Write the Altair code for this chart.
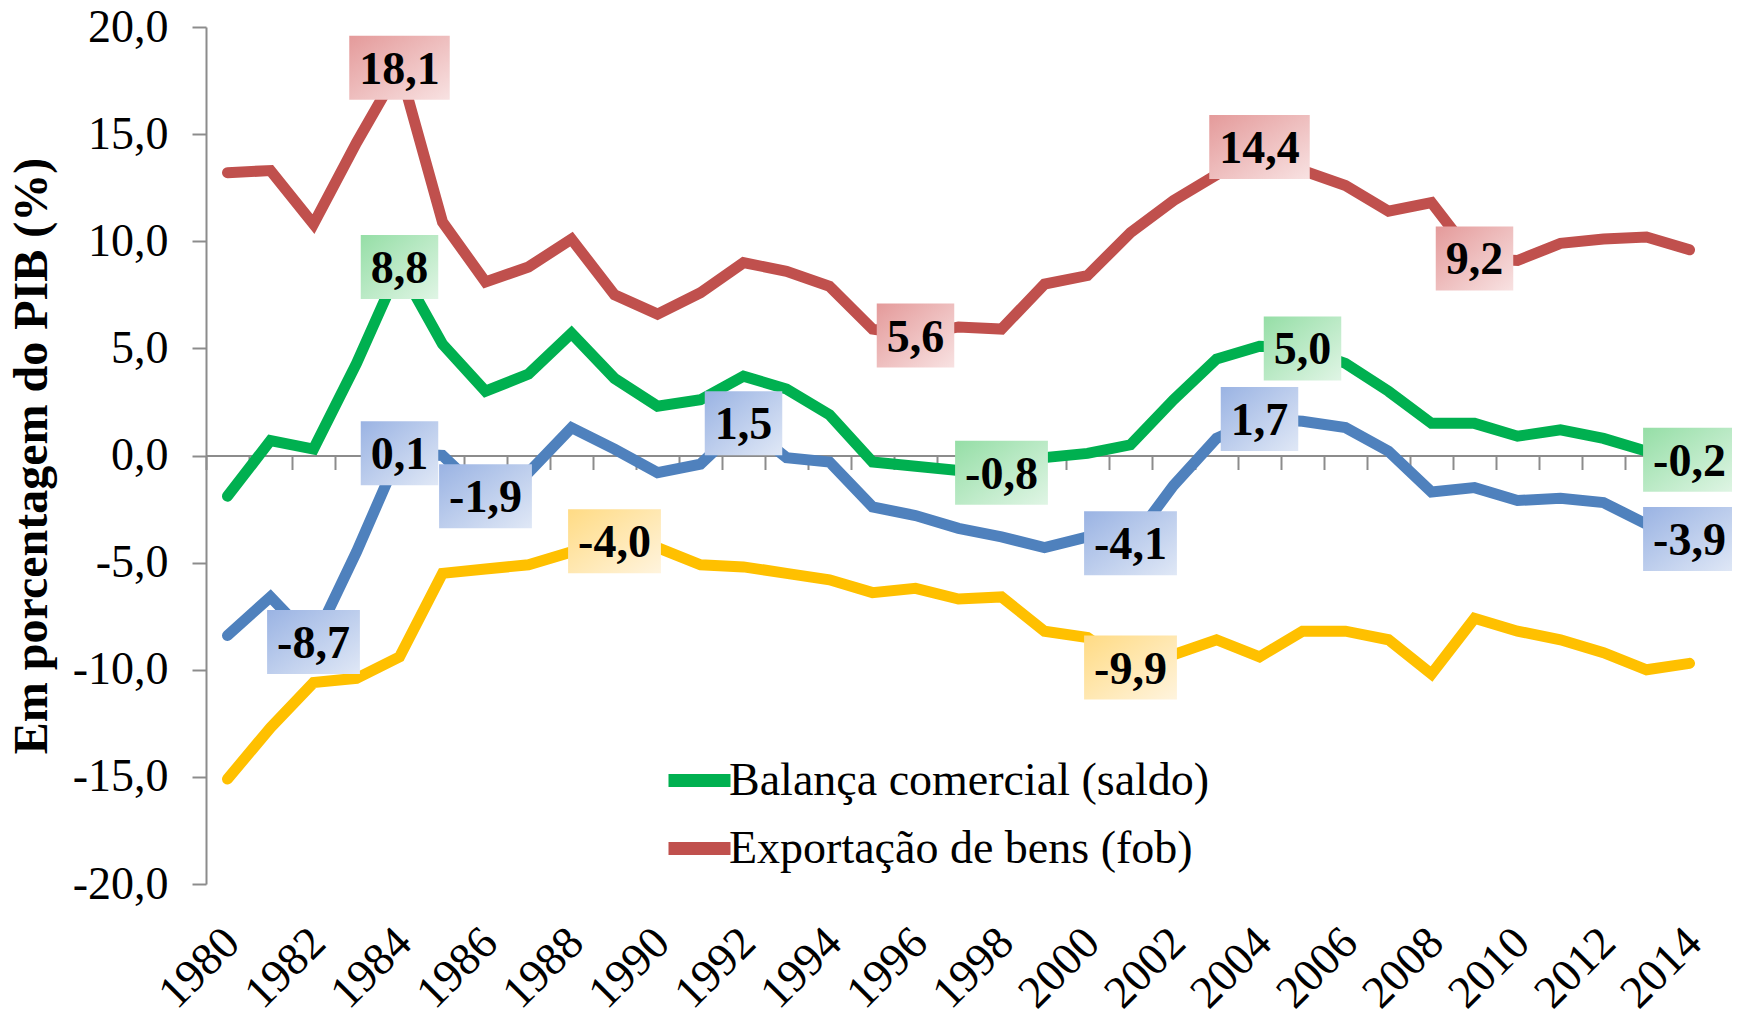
import altair as alt
import pandas as pd

# ---------------- data ----------------
years = list(range(1980, 2015))

exportacao = [13.2, 13.3, 10.8, 14.6, 18.1, 10.9, 8.1, 8.8, 10.1, 7.5,
              6.6, 7.6, 9.0, 8.6, 7.9, 5.9, 5.6, 6.0, 5.9, 8.0,
              8.4, 10.4, 11.9, 13.1, 14.4, 13.3, 12.6, 11.4, 11.8, 9.2,
              9.1, 9.9, 10.1, 10.2, 9.6]

balanca = [-1.9, 0.7, 0.3, 4.3, 8.8, 5.2, 3.0, 3.8, 5.7, 3.6,
           2.3, 2.6, 3.7, 3.1, 1.9, -0.3, -0.5, -0.7, -0.8, -0.1,
           0.1, 0.5, 2.6, 4.5, 5.1, 5.0, 4.3, 3.0, 1.5, 1.5,
           0.9, 1.2, 0.8, 0.2, -0.2]

transacoes = [-8.4, -6.6, -8.7, -4.5, 0.1, 0.0, -1.9, -0.8, 1.3, 0.3,
              -0.8, -0.4, 1.5, -0.1, -0.3, -2.4, -2.8, -3.4, -3.8, -4.3,
              -3.8, -4.1, -1.4, 0.8, 1.7, 1.6, 1.3, 0.2, -1.7, -1.5,
              -2.1, -2.0, -2.2, -3.2, -3.9]

importacao = [-15.1, -12.7, -10.6, -10.4, -9.4, -5.5, -5.3, -5.1, -4.5, -4.0,
              -4.3, -5.1, -5.2, -5.5, -5.8, -6.4, -6.2, -6.7, -6.6, -8.2,
              -8.5, -9.9, -9.3, -8.6, -9.4, -8.2, -8.2, -8.6, -10.2, -7.6,
              -8.2, -8.6, -9.2, -10.0, -9.7]

serie_names = ["Exportação de bens (fob)", "Importação de bens (fob)",
               "Balança comercial (saldo)", "Transações correntes (saldo)"]
serie_values = [exportacao, importacao, balanca, transacoes]
serie_colors = ["#C0504D", "#FFC000", "#00B050", "#4F81BD"]
legend_entries = ["Balança comercial (saldo)", "Exportação de bens (fob)"]

# years that carry a data label, per series
label_years = {
    "Exportação de bens (fob)": [1984, 1996, 2004, 2009],
    "Balança comercial (saldo)": [1984, 1998, 2005, 2014],
    "Transações correntes (saldo)": [1982, 1984, 1986, 1992, 2001, 2004, 2014],
    "Importação de bens (fob)": [1989, 2001],
}
label_gradients = {
    "Exportação de bens (fob)": ("#E49A9A", "#F8E2E2"),
    "Importação de bens (fob)": ("#FFDB84", "#FFF4DE"),
    "Balança comercial (saldo)": ("#95DEA6", "#E0F5E5"),
    "Transações correntes (saldo)": ("#9AB3E3", "#E0E8F6"),
}

y_ticks = [-20, -15, -10, -5, 0, 5, 10, 15, 20]
x_label_years = years[::2]
x_boundaries = [y - 0.5 for y in years] + [years[-1] + 0.5]

# ---------------- tables ----------------
rows = []
for name, vals in zip(serie_names, serie_values):
    for yr, v in zip(years, vals):
        rows.append({"year": yr, "value": v, "serie": name})
df = pd.DataFrame(rows)


def fmt(v):
    s = f"{abs(v):.1f}".replace(".", ",")
    return ("-" if v < 0 else "") + s


FONT = "Liberation Serif"
FS = 46
GRAY = "#8C8C8C"
W, H = 1505, 857
YMIN, YMAX = -20, 20

char_w = {"-": 0.333, ",": 0.25}

lab_rows = []
for name, yrs in label_years.items():
    vals = serie_values[serie_names.index(name)]
    for yr in yrs:
        v = vals[years.index(yr)]
        t = fmt(v)
        w = sum(char_w.get(c, 0.5) for c in t) * FS + 20
        lab_rows.append({"year": yr, "value": v, "serie": name, "text": t, "w": w})
df_lab = pd.DataFrame(lab_rows)

# ---------------- scales / axes ----------------
xscale = alt.Scale(domain=[years[0] - 0.5, years[-1] + 0.5], nice=False, zero=False)
yscale = alt.Scale(domain=[YMIN, YMAX], nice=False, zero=False)

x_axis = alt.Axis(orient="bottom", values=x_label_years, format="d", labelAngle=-45,
                  labelAlign="right", labelBaseline="middle", labelFont=FONT,
                  labelFontSize=FS, labelColor="black", labelPadding=51,
                  labelOffset=4, tickSize=0, ticks=False, domain=False,
                  grid=False, title=None, labelOverlap=False, labelFlush=False,
                  labelBound=False)

y_axis = alt.Axis(values=y_ticks,
                  labelExpr="(datum.value < 0 ? '-' : '') + replace(format(abs(datum.value), '.1f'), '.', ',')",
                  labelFont=FONT, labelFontSize=FS, labelColor="black",
                  labelPadding=24, tickSize=14, tickColor=GRAY, tickWidth=2,
                  domainColor=GRAY, domainWidth=2, grid=False,
                  title="Em porcentagem do PIB (%)", titleFont=FONT,
                  titleFontSize=48, titleFontWeight="bold", titleColor="black",
                  titlePadding=16)

zero_axis = alt.Axis(orient="bottom", offset=-H * YMAX / (YMAX - YMIN),
                     values=x_boundaries, labels=False, ticks=True, tickSize=14,
                     tickColor=GRAY, tickWidth=2, domain=True, domainColor=GRAY,
                     domainWidth=2, grid=False, title=None)

X = alt.X("year:Q", scale=xscale, axis=x_axis)
Y = alt.Y("value:Q", scale=yscale, axis=y_axis)

color = alt.Color("serie:N",
                  scale=alt.Scale(domain=serie_names, range=serie_colors),
                  legend=alt.Legend(values=legend_entries, orient="none",
                                    legendX=456, legendY=716, title=None,
                                    labelFont=FONT, labelFontSize=FS,
                                    labelColor="black", labelLimit=0,
                                    symbolType="stroke", symbolStrokeWidth=13,
                                    symbolSize=3844, labelOffset={"expr": "-8"},
                                    rowPadding=4, direction="vertical"))

# ---------------- layers ----------------
zero_layer = alt.Chart(pd.DataFrame({"b": x_boundaries})).mark_point(opacity=0).encode(
    x=alt.X("b:Q", scale=xscale, axis=zero_axis)
)

lines = alt.Chart(df).mark_line(strokeWidth=11, strokeCap="round", strokeJoin="miter").encode(
    x=X, y=Y, color=color, order="year:Q"
)

boxes = []
for r in lab_rows:
    c1, c2 = label_gradients[r["serie"]]
    grad = alt.Gradient(gradient="linear",
                        stops=[alt.GradientStop(color=c1, offset=0),
                               alt.GradientStop(color=c2, offset=1)],
                        x1=0, y1=0, x2=1, y2=1)
    boxes.append(
        alt.Chart(pd.DataFrame([r])).mark_rect(
            fill=grad, xOffset=-r["w"] / 2, x2Offset=r["w"] / 2,
            yOffset=-32, y2Offset=32
        ).encode(x=X, x2="year:Q", y=Y, y2="value:Q")
    )

texts = alt.Chart(df_lab).mark_text(font=FONT, fontSize=FS, fontWeight="bold",
                                    color="black", baseline="middle", dy=2).encode(
    x=X, y=Y, text="text:N"
)

inner = alt.layer(lines, *boxes, texts)

chart = alt.layer(zero_layer, inner).resolve_axis(x="independent").properties(
    width=W, height=H,
    padding={"left": 198, "top": 19, "right": 21, "bottom": 135},
    autosize=alt.AutoSizeParams(type="none"),
    background="white",
).configure_view(strokeWidth=0)

chart.save("out.html", embed_options={"renderer": "svg", "actions": False})
